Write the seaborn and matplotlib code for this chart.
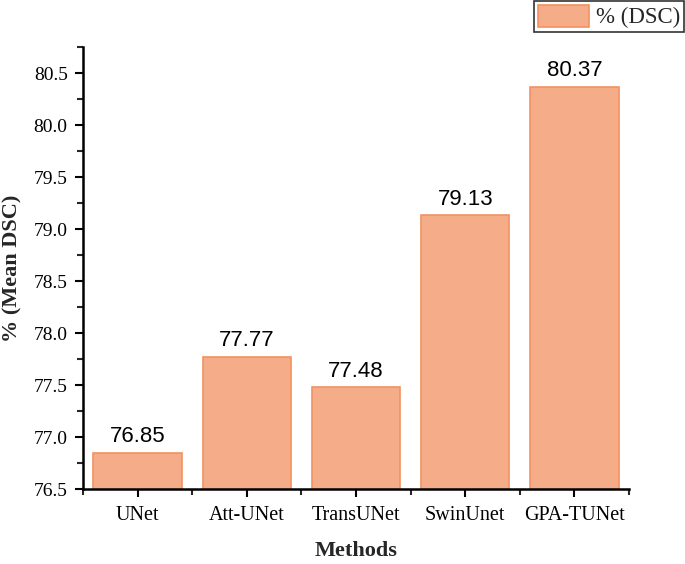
import matplotlib
matplotlib.use("Agg")
import matplotlib.pyplot as plt
import seaborn as sns
import pandas as pd
from matplotlib.patches import Patch
from matplotlib.ticker import MultipleLocator, FixedLocator

methods = ["UNet", "Att-UNet", "TransUNet", "SwinUnet", "GPA-TUNet"]
dsc = [76.85, 77.77, 77.48, 79.13, 80.37]
series_name = "% (DSC)"

sns.set_theme(style="ticks")
plt.rcParams['font.family'] = ['Liberation Serif', 'DejaVu Serif']

df = pd.DataFrame({"Method": methods, "DSC": dsc})

fill = "#F5AC88"
edge = "#F39160"

fig = plt.figure(figsize=(6.85, 5.64), dpi=100)
ax = fig.add_axes([83/685, 1-489/564, (629-83)/685, (489-47)/564])

sns.barplot(data=df, x="Method", y="DSC", color=fill, saturation=1,
            width=0.81, edgecolor=edge, linewidth=1.2, ax=ax)

ax.set_ylim(76.5, 80.75)
ax.set_xlim(-0.5, len(methods) - 0.5)
ax.yaxis.set_major_locator(MultipleLocator(0.5))
ax.yaxis.set_minor_locator(MultipleLocator(0.25))
ax.xaxis.set_minor_locator(FixedLocator([i - 0.5 for i in range(len(methods) + 1)]))
ax.set_yticks(ax.get_yticks())
ax.set_yticklabels([f"{t:.1f}" for t in ax.get_yticks()])
ax.set_ylim(76.5, 80.75)

for s in ["top", "right"]:
    ax.spines[s].set_visible(False)
for s in ["left", "bottom"]:
    ax.spines[s].set_linewidth(1.8)
    ax.spines[s].set_color("black")

ax.tick_params(axis="both", which="major", direction="out", length=6, width=1.5,
               labelsize=14.5, colors="black")
ax.tick_params(axis="y", which="major", labelsize=14, pad=5)
ax.tick_params(axis="both", which="minor", direction="out", length=4, width=1.5)
ax.tick_params(axis="x", pad=6)

for c in ax.containers:
    ax.bar_label(c, labels=[f"{v:.2f}" for v in dsc], padding=4,
                 fontsize=16, family=["Liberation Sans", "DejaVu Sans"], color="black")

ax.set_xlabel("Methods", fontsize=16, fontweight="bold", labelpad=12)
ax.set_ylabel("% (Mean DSC)", fontsize=16, fontweight="bold", labelpad=8)

handle = Patch(facecolor=fill, edgecolor=edge, linewidth=1.2, label=series_name)
leg = fig.legend(handles=[handle], loc="upper right", bbox_to_anchor=(1.0, 1.0),
                 fontsize=16.5, frameon=True, fancybox=False, borderpad=0.15,
                 handlelength=2.25, handleheight=1.1, handletextpad=0.3, borderaxespad=0.05)
leg.get_frame().set_edgecolor("black")
leg.get_frame().set_linewidth(1.2)

fig.savefig("out.png", dpi=100)
